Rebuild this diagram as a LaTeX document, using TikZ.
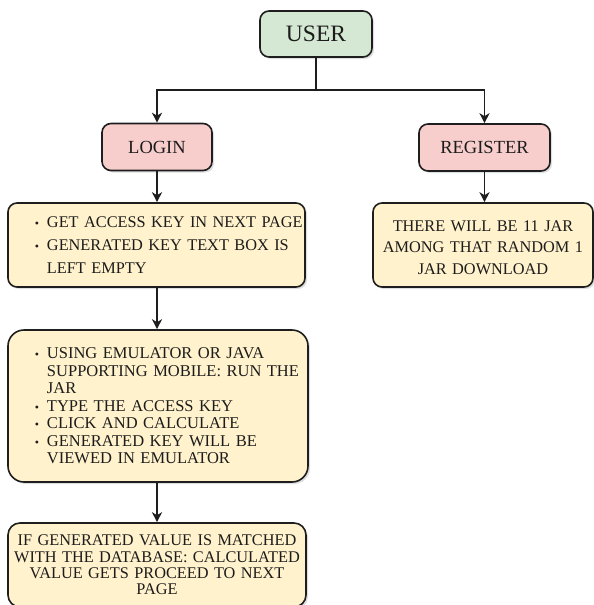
\documentclass[tikz,border=0pt]{standalone}
\usepackage{fontspec}
\setmainfont{Liberation Serif}
\usetikzlibrary{arrows.meta,shadows}

\definecolor{edge}{HTML}{1E1E1E}
\definecolor{ink}{HTML}{1C1C1C}
\definecolor{greenfill}{HTML}{D5E8D4}
\definecolor{redfill}{HTML}{F8CECC}
\definecolor{yellowfill}{HTML}{FFF2CC}

% small list bullet and list lines
\newcommand\bul{{\fontsize{12}{12}\selectfont •}}
\newcommand\bitem[1]{\hspace*{27pt}\makebox[12pt][l]{\bul}\mbox{#1}}
\newcommand\bcont[1]{\hspace*{39pt}\mbox{#1}}
% extra room above a first line
\newcommand\toproom[2]{\raisebox{0pt}[\dimexpr\height+#1\relax]{#2}}

\tikzset{
  box/.style={draw=edge, line width=1.6pt, rounded corners=9pt, inner sep=0pt,
    text=ink, drop shadow={shadow xshift=2pt, shadow yshift=-2pt, opacity=0.25, fill=gray}},
  head/.style={box, fill=redfill, minimum height=47pt, font=\fontsize{18.5}{22}\selectfont},
  note/.style={box, fill=yellowfill},
  conn/.style={draw=edge, line width=1.4pt, -{Stealth[length=10pt,width=10pt,inset=3pt]}},
}

\begin{document}
\begin{tikzpicture}[x=1pt,y=-1pt]
\useasboundingbox (0,0) rectangle (594,605);

% top node
\node[box, fill=greenfill, minimum width=112pt, minimum height=46pt,
      font=\fontsize{23.5}{27}\selectfont] (user) at (316,34) {USER};

% the two branches
\node[head, minimum width=110pt] (login) at (157,147) {LOGIN};
\node[head, minimum width=131pt] (register) at (484.5,147.5) {REGISTER};

% login path
\node[note, minimum height=84pt, text width=297pt, align=left,
      font=\fontsize{16.3}{23.3}\selectfont] (key) at (156.5,245)
  {\bitem{GET ACCESS KEY IN NEXT PAGE}\\
   \bitem{GENERATED KEY TEXT BOX IS}\\
   \bcont{LEFT EMPTY}};

\node[note, rounded corners=16pt, minimum height=152pt, text width=300pt, align=left,
      font=\fontsize{16.5}{17.5}\selectfont] (run) at (158,406)
  {\bitem{USING EMULATOR OR JAVA}\\
   \bcont{SUPPORTING MOBILE: RUN THE}\\
   \bcont{JAR}\\
   \bitem{TYPE THE ACCESS KEY}\\
   \bitem{CLICK AND CALCULATE}\\
   \bitem{GENERATED KEY WILL BE}\\
   \bcont{VIEWED IN EMULATOR}};

\node[note, rounded corners=12pt, minimum height=84pt, text width=298pt, align=center,
      font=\fontsize{16.3}{16.3}\selectfont] (check) at (157,565)
  {IF GENERATED VALUE IS MATCHED\\
   WITH THE DATABASE: CALCULATED\\
   VALUE GETS PROCEED TO NEXT\\
   PAGE};

% register path
\node[note, minimum height=84pt, text width=220pt, align=center,
      font=\fontsize{16.3}{21.5}\selectfont] (jar) at (483,245)
  {\toproom{5pt}{THERE WILL BE 11 JAR}\\
   AMONG THAT RANDOM 1\\
   JAR DOWNLOAD};

% connectors
\coordinate (split) at (316,90);
\draw[conn] (user.south) -- (split) -| (login.north);
\draw[conn] (user.south) -- (split) -| (register.north);
\draw[conn] (login.south) -- (login.south |- key.north);
\draw[conn] (key.south -| login.south) -- (login.south |- run.north);
\draw[conn] (run.south -| login.south) -- (login.south |- check.north);
\draw[conn] (register.south) -- (register.south |- jar.north);
\end{tikzpicture}
\end{document}
